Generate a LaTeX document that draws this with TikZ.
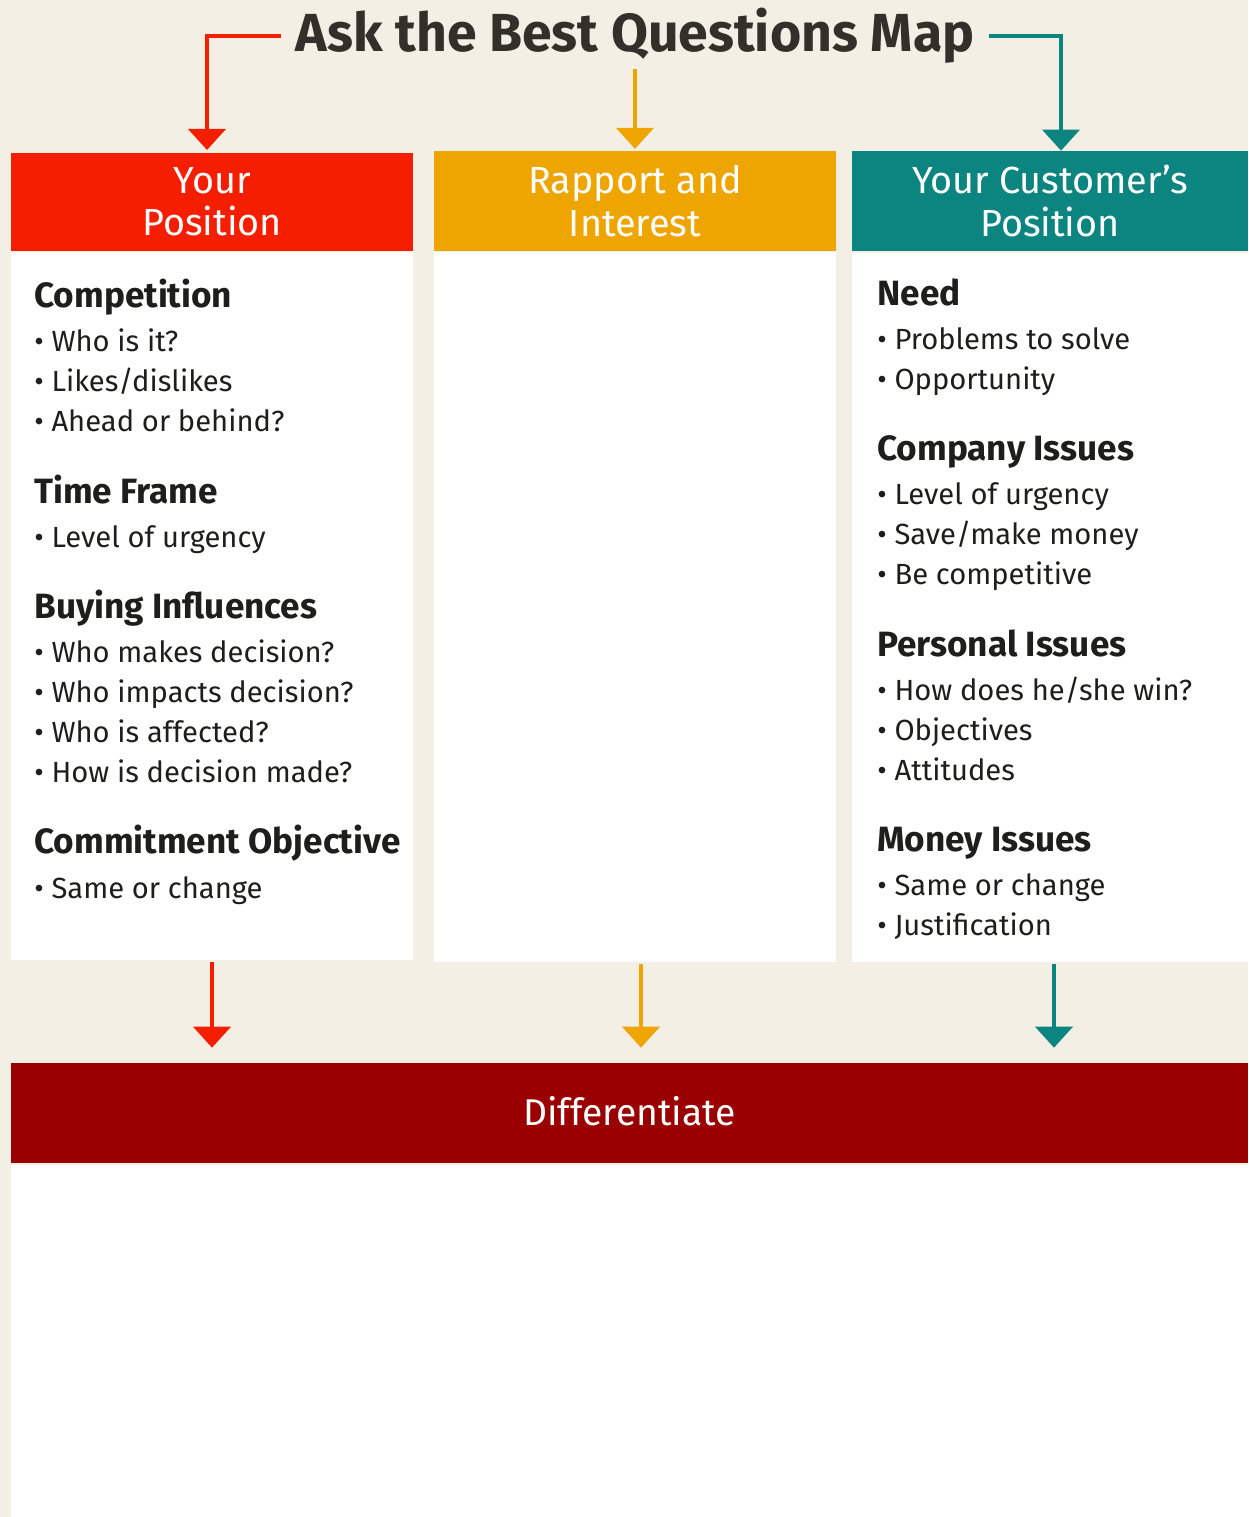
\documentclass[tikz,border=0pt]{standalone}
\usepackage{fontspec}
\setmainfont{Fira Sans}
\usetikzlibrary{arrows.meta,positioning,calc}

\definecolor{cream}{HTML}{F3EFE4}
\definecolor{posRed}{HTML}{F51E00}
\definecolor{rapOrange}{HTML}{EFA500}
\definecolor{custTeal}{HTML}{0C8580}
\definecolor{diffRed}{HTML}{9B0000}
\definecolor{ink}{HTML}{1E1E1C}
\definecolor{titleInk}{HTML}{33302A}

\def\px{0.02cm}

\tikzset{
    header/.style={fill=#1,text=white,align=center,inner sep=0pt,
        font=\fontsize{21.5}{24}\selectfont,minimum height=100*\px},
    column/.style={fill=white,inner sep=0pt},
    topic/.style={anchor=base west,inner sep=0pt,text=ink,
        font=\bfseries\fontsize{20}{22}\selectfont},
    point/.style={anchor=base west,inner sep=0pt,text=ink,
        font=\fontsize{16.6}{19}\selectfont},
    flow/.style={line width=2.8pt,-{Triangle[width=21pt,length=12pt]}}
}

\begin{document}
\begin{tikzpicture}[x=0.02cm,y=-0.02cm]

    % --- Canvas ---
    \fill[cream] (0,0) rectangle (1248,1517);
    \useasboundingbox (0,0) rectangle (1248,1517);

    % Title
    \node[inner sep=0pt,text=titleInk,font=\bfseries\fontsize{30.5}{32}\selectfont]
        (title) at (635,36) {Ask the Best Questions Map};

    % Column headers
    \node[header=posRed,minimum width=402*\px,minimum height=98*\px]
        (posL) at (212,202) {Your\\Position};
    \node[header=rapOrange,minimum width=402*\px] (posM) at (635,201) {Rapport and\\Interest};
    \node[header=custTeal,minimum width=396*\px] (posR) at (1050,201) {Your Customer’s\\Position};

    % Column bodies
    \node[column,minimum width=402*\px,minimum height=708*\px] (boxL) at (212,606) {};
    \node[column,minimum width=402*\px,minimum height=710*\px] (boxM) at (635,607) {};
    \node[column,minimum width=396*\px,minimum height=709*\px] (boxR) at (1050,607.5) {};

    % Differentiate bar and the space below it
    \node[fill=diffRed,text=white,inner sep=0pt,minimum width=1237*\px,minimum height=100*\px,
        text depth=0.25em,font=\fontsize{21.2}{23}\selectfont] (diff) at (629.5,1113) {Differentiate};
    \fill[white] (11,1165) rectangle (1248,1517);

    % Your position
    \foreach \n/\y/\t in {compL/307/Competition,timeL/503/Time Frame,
            buyL/618/Buying Influences,commitL/853/Commitment Objective}
        \node[topic] (\n) at (34,\y) {\t};
    \foreach \n/\y/\t in {whoL/351/Who is it?,likeL/391/{Likes/dislikes},
            aheadL/431/Ahead or behind?,urgL/547/Level of urgency,
            makesL/662/Who makes decision?,impactsL/702/Who impacts decision?,
            affectedL/742/Who is affected?,madeL/782/How is decision made?,
            sameL/898/Same or change}
        \node[point] (\n) at (34,\y) {• \t};

    % Your customer's position
    \foreach \n/\y/\t in {needR/305/Need,compR/460/Company Issues,
            persR/656/Personal Issues,moneyR/851/Money Issues}
        \node[topic] (\n) at (877,\y) {\t};
    \foreach \n/\y/\t in {probR/349/Problems to solve,oppR/389/Opportunity,
            urgR/504/Level of urgency,saveR/544/{Save/make money},
            competR/584/Be competitive,winR/700/{How does he/she win?},
            objR/740/Objectives,attR/780/Attitudes,
            sameR/895/Same or change,justR/935/Justification}
        \node[point] (\n) at (877,\y) {• \t};

    % Arrows from the title
    \draw[flow,posRed,shorten <=8pt,shorten >=1.5pt] (title.west) -| ([xshift=-0.1cm]posL.north);
    \draw[flow,rapOrange,shorten <=3pt,shorten >=1pt] (title.south) -- (posM.north);
    \draw[flow,custTeal,shorten <=8pt,shorten >=0pt] (title.east) -| ([xshift=0.22cm]posR.north);

    % Arrows down to the differentiate bar
    \draw[flow,posRed,shorten <=1pt,shorten >=8.5pt] (boxL.south) -- (boxL.south |- diff.north);
    \draw[flow,rapOrange,shorten <=1pt,shorten >=8.5pt]
        ([xshift=0.12cm]boxM.south) -- ([xshift=0.12cm]boxM.south |- diff.north);
    \draw[flow,custTeal,shorten <=1pt,shorten >=8.5pt]
        ([xshift=0.08cm]boxR.south) -- ([xshift=0.08cm]boxR.south |- diff.north);

\end{tikzpicture}
\end{document}
